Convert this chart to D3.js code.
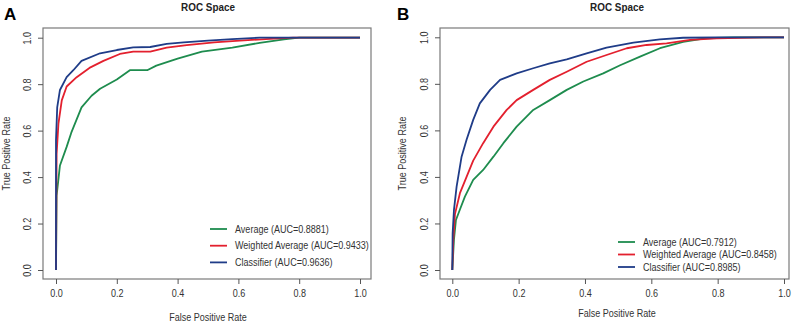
<!DOCTYPE html>
<html>
<head>
<meta charset="utf-8">
<script src="https://cdn.jsdelivr.net/npm/d3@7"></script>
<style>
  body { margin: 0; background: #fff; }
  svg { display: block; font-family: "Liberation Sans", Arial, sans-serif; }
</style>
</head>
<body>
<svg id="chart" width="800" height="324"></svg>
<script>
// tick labels (shared by both panels)
const ticks = [0, 0.2, 0.4, 0.6, 0.8, 1.0];

// Panel A curves [fpr, tpr]
const avgA = [[0,0],[0.002,0.32],[0.013,0.45],[0.035,0.53],[0.05,0.59],[0.084,0.70],[0.117,0.75],[0.145,0.78],[0.2,0.82],[0.243,0.86],[0.3,0.86],[0.33,0.88],[0.4,0.91],[0.48,0.94],[0.58,0.957],[0.67,0.978],[0.75,0.993],[0.8,1],[1,1]];
const wavgA = [[0,0],[0.002,0.5],[0.008,0.63],[0.019,0.73],[0.035,0.79],[0.068,0.83],[0.11,0.87],[0.156,0.90],[0.21,0.93],[0.254,0.94],[0.31,0.94],[0.364,0.957],[0.43,0.968],[0.52,0.98],[0.605,0.987],[0.69,0.994],[0.78,1],[1,1]];
const clsA = [[0,0],[0,0.56],[0.004,0.70],[0.013,0.775],[0.035,0.83],[0.057,0.86],[0.084,0.90],[0.145,0.933],[0.2,0.947],[0.254,0.958],[0.31,0.96],[0.364,0.973],[0.42,0.98],[0.5,0.987],[0.58,0.994],[0.67,1],[1,1]];

// Panel B curves [fpr, tpr]
const avgB = [[0,0],[0.005,0.13],[0.011,0.215],[0.023,0.26],[0.038,0.315],[0.063,0.387],[0.093,0.43],[0.124,0.487],[0.154,0.545],[0.194,0.616],[0.244,0.688],[0.294,0.73],[0.345,0.774],[0.395,0.81],[0.455,0.845],[0.506,0.88],[0.566,0.917],[0.626,0.953],[0.696,0.98],[0.767,0.996],[0.847,1],[1,1]];
const wavgB = [[0,0],[0.003,0.13],[0.008,0.24],[0.023,0.33],[0.043,0.40],[0.063,0.47],[0.093,0.545],[0.124,0.616],[0.164,0.688],[0.194,0.73],[0.244,0.774],[0.294,0.817],[0.345,0.852],[0.405,0.895],[0.465,0.924],[0.526,0.953],[0.586,0.967],[0.646,0.974],[0.717,0.989],[0.797,0.996],[0.948,1],[1,1]];
const clsB = [[0,0],[0.001,0.158],[0.005,0.258],[0.013,0.358],[0.028,0.487],[0.043,0.56],[0.063,0.645],[0.083,0.716],[0.114,0.774],[0.144,0.817],[0.194,0.845],[0.244,0.867],[0.294,0.888],[0.345,0.905],[0.405,0.931],[0.465,0.956],[0.546,0.977],[0.626,0.991],[0.696,0.998],[0.8,1],[1,1]];

const labelsA = ["Average (AUC=0.8881)", "Weighted Average (AUC=0.9433)", "Classifier (AUC=0.9636)"];
const labelsB = ["Average (AUC=0.7912)", "Weighted Average (AUC=0.8458)", "Classifier (AUC=0.8985)"];
const colors = ["#1e8c4e", "#e3202e", "#1f3c88"];

const svg = d3.select("#chart");
const sx = 0.86; // the source image text is a bit narrow

// text placed at (x,y) and squeezed horizontally
function label(g, x, y, str, size, weight, anchor, rot) {
  return g.append("text")
    .attr("transform", `translate(${x},${y})${rot ? " rotate(-90)" : ""} scale(${sx},1)`)
    .attr("text-anchor", anchor || "start")
    .style("font-size", size + "px").style("font-weight", weight || "normal")
    .attr("fill", "#333").text(str);
}

// draw one R-style ROC panel
function panel(cfg) {
  const g = svg.append("g");
  const x = d3.scaleLinear().domain([0, 1]).range([cfg.x0, cfg.x1]);
  const y = d3.scaleLinear().domain([0, 1]).range([cfg.y0, cfg.y1]);

  // box
  g.append("rect")
    .attr("x", cfg.box[0]).attr("y", cfg.box[1])
    .attr("width", cfg.box[2] - cfg.box[0]).attr("height", cfg.box[3] - cfg.box[1])
    .attr("fill", "none").attr("stroke", "#7a7a7a").attr("stroke-width", 1.2);

  // axes
  const xa = g.append("g").attr("transform", `translate(0,${cfg.box[3]})`)
    .call(d3.axisBottom(x).tickValues(ticks).tickFormat(d3.format(".1f")).tickSize(5).tickPadding(6));
  const ya = g.append("g").attr("transform", `translate(${cfg.box[0]},0)`)
    .call(d3.axisLeft(y).tickValues(ticks).tickFormat(d3.format(".1f")).tickSize(5).tickPadding(6));
  [xa, ya].forEach(a => {
    a.select(".domain").remove();
    a.selectAll("line").attr("stroke", "#555");
    a.selectAll("text").attr("fill", "#333").style("font-size", "10.5px");
  });
  xa.selectAll(".tick text").attr("transform", `scale(${sx},1)`);
  ya.selectAll(".tick text")
    .attr("text-anchor", "middle").attr("x", 0).attr("y", 0).attr("dy", "0.35em")
    .attr("transform", `translate(-16,0) rotate(-90) scale(${sx},1)`);

  // curves
  const line = d3.line().x(d => x(d[0])).y(d => y(d[1]));
  cfg.series.forEach((s, i) => {
    g.append("path").datum(s).attr("d", line)
      .attr("fill", "none").attr("stroke", colors[i]).attr("stroke-width", 1.8)
      .attr("stroke-linejoin", "round");
  });

  // legend
  cfg.labels.forEach((lab, i) => {
    const ly = cfg.legY + i * cfg.legDy;
    g.append("line").attr("x1", cfg.legX).attr("x2", cfg.legX + 17)
      .attr("y1", ly).attr("y2", ly).attr("stroke", colors[i]).attr("stroke-width", 1.8);
    label(g, cfg.legX + 25, ly + 3.7, lab, 10.5);
  });

  // titles
  label(g, cfg.cx, 11, "ROC Space", 11.5, "bold", "middle").attr("fill", "#222");
  label(g, cfg.cx, cfg.xlabY, "False Positive Rate", 10.5, null, "middle");
  label(g, cfg.ylabX, (cfg.box[1] + cfg.box[3]) / 2, "True Positive Rate", 10.5, null, "middle", true);
  g.append("text").attr("x", cfg.letterX).attr("y", 20)
    .style("font-size", "17px").style("font-weight", "bold").attr("fill", "#000").text(cfg.letter);
}

panel({
  x0: 56, x1: 360, y0: 270, y1: 37.7, box: [43, 28, 371, 279],
  series: [avgA, wavgA, clsA], labels: labelsA,
  legX: 210, legY: 229, legDy: 16.7,
  cx: 208, xlabY: 321, ylabX: 10, letter: "A", letterX: 4
});
panel({
  x0: 452.3, x1: 784, y0: 270, y1: 37.3, box: [440, 28, 789, 279],
  series: [avgB, wavgB, clsB], labels: labelsB,
  legX: 618, legY: 242, legDy: 12.5,
  cx: 617, xlabY: 317, ylabX: 406, letter: "B", letterX: 397
});
</script>
</body>
</html>
